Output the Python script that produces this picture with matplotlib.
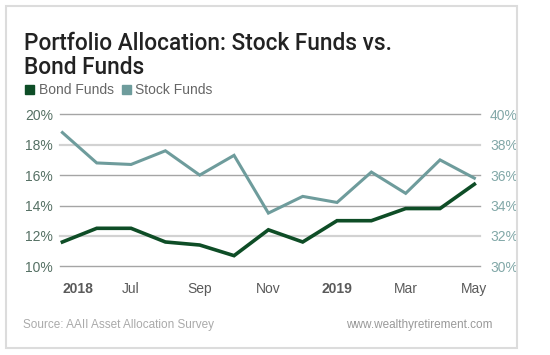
import matplotlib.pyplot as plt
from matplotlib.patches import Rectangle

# data (AAII allocation survey, May 2018 - May 2019)
months = ["May 2018", "Jun", "Jul", "Aug", "Sep", "Oct", "Nov", "Dec",
          "Jan 2019", "Feb", "Mar", "Apr", "May"]
bond_funds = [11.6, 12.5, 12.5, 11.6, 11.4, 10.7, 12.4, 11.6, 13.0, 13.0, 13.8, 13.8, 15.4]
stock_funds = [38.8, 36.8, 36.7, 37.6, 36.0, 37.3, 33.5, 34.6, 34.2, 36.2, 34.8, 37.0, 35.8]
tick_labels = ["2018", "Jul", "Sep", "Nov", "2019", "Mar", "May"]
left_ticks = [10, 12, 14, 16, 18, 20]
right_ticks = [30, 32, 34, 36, 38, 40]

bond_color = "#0e4d26"
stock_color = "#6e9c9c"
W, H = 550, 355

plt.rcParams["font.family"] = ["Liberation Sans", "DejaVu Sans"]

fig = plt.figure(figsize=(W / 100, H / 100), dpi=100)

def fx(px):
    return px / W

def fy(py):
    return 1 - py / H

# outer frame
fig.patches.append(Rectangle((fx(6), fy(348)), fx(511), 342 / H, transform=fig.transFigure,
                             fill=False, edgecolor="#dcdcdc", lw=1.5))

# title
title_font = dict(fontsize=16.3, color="#222222", va="baseline", ha="left",
                  family=["Roboto", "Liberation Sans"], fontweight="medium")
fig.text(fx(24.5), fy(50), "Portfolio Allocation: Stock Funds vs.", **title_font)
fig.text(fx(24.5), fy(74), "Bond Funds", **title_font)

# legend
fig.patches.append(Rectangle((fx(24.7), fy(94)), fx(9.3), 9.3 / H, transform=fig.transFigure,
                             color=bond_color))
fig.text(fx(39), fy(89.8), "Bond Funds", fontsize=10, color="#666666", va="center", ha="left")
fig.patches.append(Rectangle((fx(121.7), fy(94)), fx(9.3), 9.3 / H, transform=fig.transFigure,
                             color=stock_color))
fig.text(fx(135), fy(89.8), "Stock Funds", fontsize=10, color="#666666", va="center", ha="left")

# axes
ax = fig.add_axes([fx(60), fy(266.3), (479.5 - 60) / W, (266.3 - 114.3) / H])
ax2 = ax.twinx()

x = list(range(len(months)))
ax.plot(x, bond_funds, color=bond_color, lw=2.6, solid_joinstyle="miter", zorder=3)
ax2.plot(x, stock_funds, color=stock_color, lw=2.2, solid_joinstyle="miter", zorder=3)

ax.set_xlim(-0.07, 12.15)
ax.set_ylim(10, 20)
ax2.set_ylim(30, 40)

ax.set_yticks(left_ticks)
ax.set_yticklabels([f"{v}%" for v in left_ticks])
ax2.set_yticks(right_ticks)
ax2.set_yticklabels([f"{v}%" for v in right_ticks])

ax.set_xticks(x[::2])
ax.set_xticklabels(tick_labels)
labels = ax.get_xticklabels()
labels[0].set_ha("left")
for i in (0, 4):
    labels[i].set_fontweight("bold")
    labels[i].set_color("#333333")

ax.tick_params(axis="x", length=0, pad=11, labelsize=10, labelcolor="#5a5a5a")
ax.tick_params(axis="y", length=0, pad=5, labelsize=10, labelcolor="#557064")
ax2.tick_params(axis="y", length=0, pad=7.5, labelsize=10, labelcolor="#82a8a8")

for a in (ax, ax2):
    for s in a.spines.values():
        s.set_visible(False)

ax.yaxis.grid(True, color="#a5a5a5", lw=1)
for v, gl in zip(left_ticks, ax.get_ygridlines()):
    if v in (12, 18):
        gl.set_color("#d2d2d2")
        gl.set_linewidth(1.6)
    gl.set_clip_on(False)
ax.set_axisbelow(True)

# footer
fig.text(fx(23), fy(325), "Source: AAII Asset Allocation Survey", fontsize=8.5,
         color="#aaaaaa", va="center", ha="left")
fig.text(fx(492.5), fy(325), "www.wealthyretirement.com", fontsize=8.5,
         color="#999999", va="center", ha="right")

fig.savefig("out.png", dpi=100)
